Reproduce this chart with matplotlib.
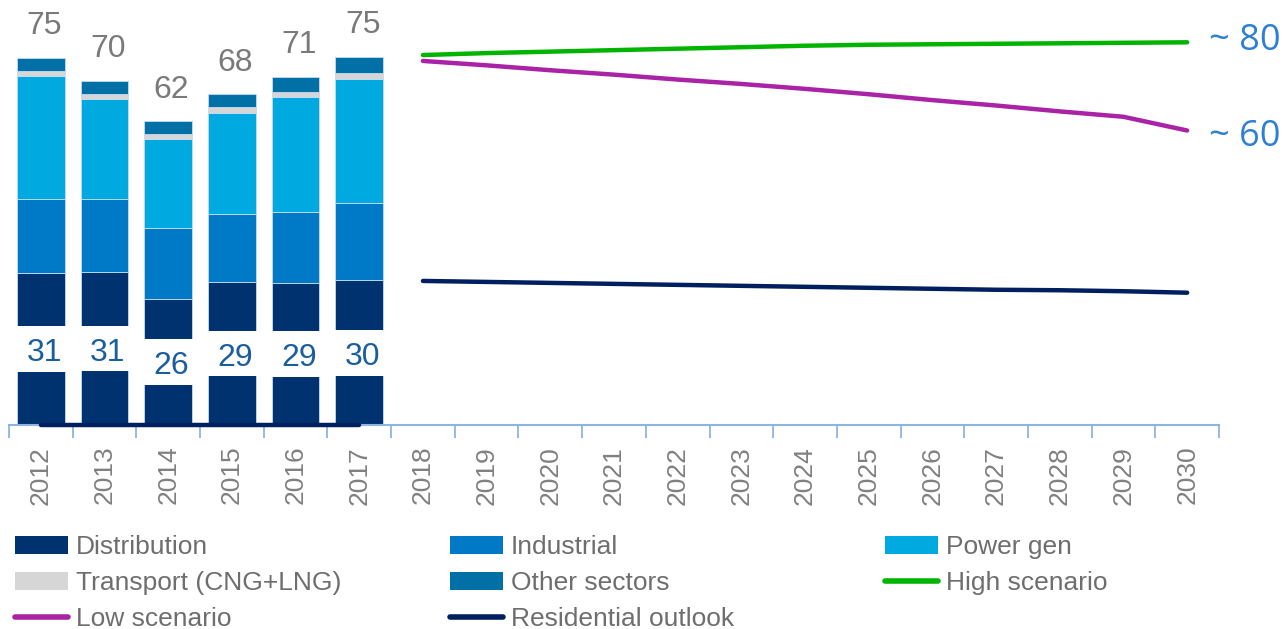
import numpy as np
import matplotlib
matplotlib.use("Agg")
from matplotlib import pyplot as plt
from matplotlib.patches import Patch
from matplotlib.lines import Line2D

plt.rcParams['font.family'] = ['Liberation Sans', 'DejaVu Sans']

# categories
years = [str(y) for y in range(2012, 2031)]
hist_years = years[:6]
proj_years = years[6:]

# historical demand by sector (stacked bars)
distribution = [31.1, 31.2, 25.8, 29.1, 28.9, 29.5]
industrial = [15.0, 14.9, 14.5, 13.9, 14.5, 15.8]
power_gen = [25.2, 20.5, 18.0, 20.7, 23.5, 25.4]
transport = [1.0, 1.0, 1.0, 1.1, 1.1, 1.1]
other = [2.7, 2.7, 2.7, 2.8, 3.1, 3.4]
total_labels = [75, 70, 62, 68, 71, 75]
dist_labels = [31, 31, 26, 29, 29, 30]

# scenarios 2018-2030
high = [75.5, 75.9, 76.2, 76.5, 76.8, 77.1, 77.4, 77.6, 77.7, 77.8, 77.9, 78.0, 78.1]
low = [74.3, 73.4, 72.4, 71.5, 70.5, 69.6, 68.6, 67.5, 66.3, 65.2, 64.0, 62.9, 60.1]
residential = [29.4, 29.2, 29.0, 28.8, 28.6, 28.4, 28.2, 28.0, 27.8, 27.6, 27.5, 27.3, 27.0]
residential_hist = [0, 0, 0, 0, 0, 0]
end_labels = ['~ 80', '~ 60']

c_dist = '#00326f'
c_ind = '#0079c6'
c_pg = '#00a9df'
c_tr = '#d6d6d6'
c_oth = '#0070a6'
c_high = '#00b400'
c_low = '#aa22a6'
c_res = '#001f5f'
c_axis = '#8db4e2'
grey = '#7a7a7a'

fig = plt.figure(figsize=(12.86, 6.29), dpi=100)
ax = fig.add_axes([9/1286, 204/629, 1210/1286, 425/629])

xh = np.arange(len(hist_years))
xp = np.arange(len(hist_years), len(years))
w = 0.75
edge = dict(edgecolor='#c4dcf2', linewidth=0.6)

bottom = np.zeros(len(xh))
for vals, col in [(distribution, c_dist), (industrial, c_ind), (power_gen, c_pg),
                  (transport, c_tr), (other, c_oth)]:
    ax.bar(xh, vals, w, bottom=bottom, color=col, zorder=2, **edge)
    bottom += np.array(vals)

# white gap with the distribution value inside
gap = 9.3
dist = np.array(distribution)
ax.bar(xh, gap, 0.8, bottom=dist/2 - gap/2, color='white', zorder=2.5)
for i in range(len(xh)):
    ax.annotate(str(dist_labels[i]), (xh[i], dist[i]/2), xytext=(2.5, -3),
                textcoords='offset points', ha='center', va='center',
                fontsize=23, color='#1b5e9e', zorder=3)
    ax.annotate(str(total_labels[i]), (xh[i], bottom[i]), xytext=(2.5, 22.5),
                textcoords='offset points', ha='center', va='center',
                fontsize=23, color=grey, zorder=3)

lw = 3.2
ax.plot(xp, high, color=c_high, lw=lw, solid_capstyle='round', zorder=4)
ax.plot(xp, low, color=c_low, lw=lw, solid_capstyle='round', zorder=4)
ax.plot(xp, residential, color=c_res, lw=lw, solid_capstyle='round', zorder=4)
ax.plot(xh, residential_hist, color=c_res, lw=lw, solid_capstyle='round', zorder=4, clip_on=False)

for txt, ys, dy in [(end_labels[0], high, 1), (end_labels[1], low, -5)]:
    ax.annotate(txt, (xp[-1], ys[-1]), xytext=(16, dy), textcoords='offset points',
                ha='left', va='center', fontsize=26, color='#2e80d6',
                family=['Open Sans', 'DejaVu Sans'], annotation_clip=False)

ax.set_xlim(-0.5, len(years) - 0.5)
ax.set_ylim(0, 425/4.9)
ax.set_xticks(np.arange(len(years)))
ax.set_xticklabels(years, rotation=90, fontsize=19, color='#808080')
ax.set_xticks(np.arange(len(years) + 1) - 0.5, minor=True)
ax.tick_params(axis='x', which='major', length=0, pad=15)
ax.tick_params(axis='x', which='minor', length=9.5, width=1.3, color=c_axis)
ax.set_yticks([])
for s in ['top', 'right', 'left']:
    ax.spines[s].set_visible(False)
ax.spines['bottom'].set_color(c_axis)
ax.spines['bottom'].set_linewidth(1.5)

def patch(c, l):
    return Patch(facecolor=c, edgecolor='none', label=l)

def line(c, l):
    return Line2D([], [], color=c, lw=4, solid_capstyle='round', label=l)

cols = [
    [patch(c_dist, 'Distribution'), patch(c_tr, 'Transport (CNG+LNG)'), line(c_low, 'Low scenario')],
    [patch(c_ind, 'Industrial'), patch(c_oth, 'Other sectors'), line(c_res, 'Residential outlook')],
    [patch(c_pg, 'Power gen'), line(c_high, 'High scenario')],
]
for k, hs in enumerate(cols):
    leg = fig.legend(handles=hs, loc='upper left',
                     bbox_to_anchor=((15 + 435*k)/1286, 1 - 535/629),
                     frameon=False, fontsize=19, labelcolor='#6e6e6e',
                     handlelength=2.0, handletextpad=0.3, labelspacing=0.46,
                     borderpad=0, borderaxespad=0)

fig.savefig('out.png', dpi=100)
